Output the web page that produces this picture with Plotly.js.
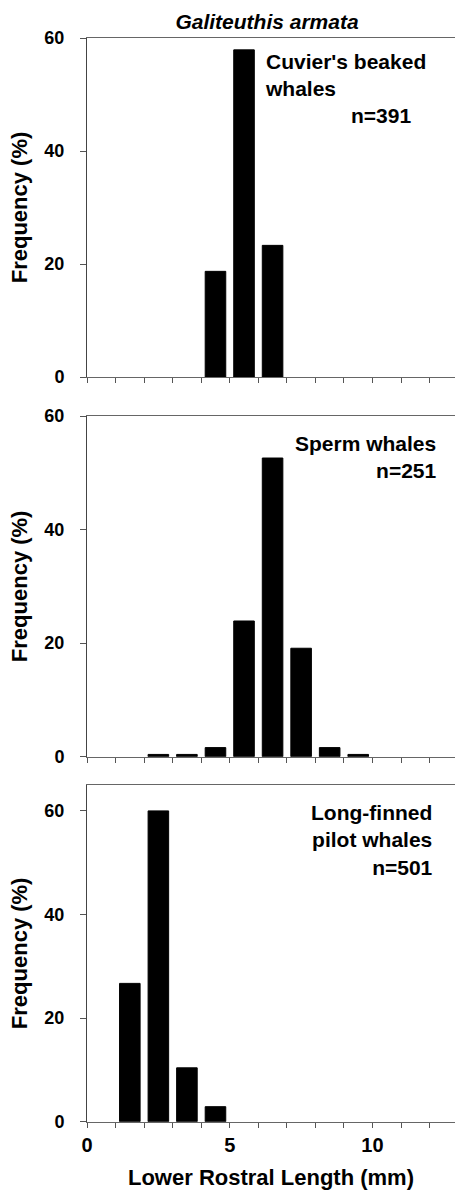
<!DOCTYPE html>
<html>
<head>
<meta charset="utf-8">
<script src="https://cdn.plot.ly/plotly-3.0.1.min.js"></script>
<style>
  html, body { margin: 0; padding: 0; background: #fff; }
  #chart { width: 455px; height: 1194px; }
</style>
</head>
<body>
<div id="chart"></div>
<script>
// ---- Data ----
const chartTitle = "Galiteuthis armata";
const xAxisTitle = "Lower Rostral Length (mm)";
const yAxisTitle = "Frequency (%)";

// Bin centres (mm) and frequencies (%)
const cuvierX = [4.5, 5.5, 6.5];
const cuvierFreq = [18.7, 57.9, 23.3];

const spermX = [2.5, 3.5, 4.5, 5.5, 6.5, 7.5, 8.5, 9.5];
const spermFreq = [0.4, 0.4, 1.6, 23.9, 52.6, 19.1, 1.6, 0.4];

const pilotX = [1.5, 2.5, 3.5, 4.5];
const pilotFreq = [26.7, 60.0, 10.4, 2.9];

const panelLabels = ["Cuvier's beaked<br>whales", "Sperm whales<br>n=251", "Long-finned<br>pilot whales<br>n=501"];
const cuvierN = "n=391";

const xTickVals = [0, 1, 2, 3, 4, 5, 6, 7, 8, 9, 10, 11, 12, 13];
const xTickText = ["0", "", "", "", "", "5", "", "", "", "", "10", "", "", ""];
const yTickVals = [0, 20, 40, 60];

// ---- Figure ----
const FONT = "Liberation Sans, Arial, Helvetica, sans-serif";
const H = 1194;
const px = p => (H - p) / H;

function bar(x, y, xa, ya) {
  return {
    type: "bar", x: x, y: y, xaxis: xa, yaxis: ya,
    width: 0.72,
    marker: { color: "#000", line: { color: "#000", width: 1 } },
    hoverinfo: "x+y", showlegend: false
  };
}

const traces = [
  bar(cuvierX, cuvierFreq, "x", "y"),
  bar(spermX, spermFreq, "x2", "y2"),
  bar(pilotX, pilotFreq, "x3", "y3")
];

function xaxis(anchor, showLabels) {
  return {
    anchor: anchor, domain: [0, 1], range: [0, 12.89],
    tickmode: "array", tickvals: xTickVals, ticktext: xTickText,
    showticklabels: showLabels,
    ticks: "outside", ticklen: 5, tickwidth: 1, tickcolor: "#555",
    showline: true, linecolor: "#666", linewidth: 1, mirror: true,
    showgrid: false, zeroline: false,
    tickfont: { family: FONT, size: 20, color: "#000", weight: "bold" }
  };
}
function yaxis(anchor, domain, range) {
  return {
    anchor: anchor, domain: domain, range: range,
    tickmode: "array", tickvals: yTickVals,
    ticks: "outside", ticklen: 6, tickwidth: 1, tickcolor: "#555",
    showline: true, linecolor: "#444", linewidth: 1,
    showgrid: false, zeroline: false,
    ticklabelstandoff: 12,
    tickfont: { family: FONT, size: 18, color: "#000", weight: "bold" },
    title: { text: yAxisTitle, standoff: 10,
             font: { family: FONT, size: 22, color: "#000", weight: "bold" } }
  };
}

const x3 = xaxis("y3", true);
x3.title = { text: xAxisTitle, standoff: 14,
             font: { family: FONT, size: 22, color: "#000", weight: "bold" } };

const annFont = { family: FONT, size: 21, color: "#000", weight: "bold" };

const layout = {
  width: 455, height: 1194,
  margin: { l: 87, r: 0, t: 0, b: 0 },
  paper_bgcolor: "#fff", plot_bgcolor: "#fff",
  title: {
    text: chartTitle, xref: "container", yref: "container",
    x: 267 / 455, y: px(22), xanchor: "center", yanchor: "middle",
    font: { family: FONT, size: 21, color: "#000", weight: "bold", style: "italic" }
  },
  xaxis: xaxis("y", false),
  yaxis: yaxis("x", [px(377), px(38)], [0, 60]),
  xaxis2: xaxis("y2", false),
  yaxis2: yaxis("x2", [px(756.7), px(416)], [0, 60]),
  xaxis3: x3,
  yaxis3: yaxis("x3", [px(1121.7), px(785)], [0, 65]),
  annotations: [
    { xref: "x", yref: "y", x: 6.16, y: 58.3, xanchor: "left", yanchor: "top",
      align: "left", text: panelLabels[0], showarrow: false, font: annFont },
    { xref: "x", yref: "y", x: 11.42, y: 48.6, xanchor: "right", yanchor: "top",
      align: "right", text: cuvierN, showarrow: false, font: annFont },
    { xref: "x2", yref: "y2", x: 12.33, y: 57.6, xanchor: "right", yanchor: "top",
      align: "right", text: panelLabels[1], showarrow: false, font: annFont },
    { xref: "x3", yref: "y3", x: 12.2, y: 62.3, xanchor: "right", yanchor: "top",
      align: "right", text: panelLabels[2], showarrow: false, font: annFont }
  ],
  bargap: 0
};

Plotly.newPlot("chart", traces, layout, { staticPlot: true, displayModeBar: false });
</script>
</body>
</html>
